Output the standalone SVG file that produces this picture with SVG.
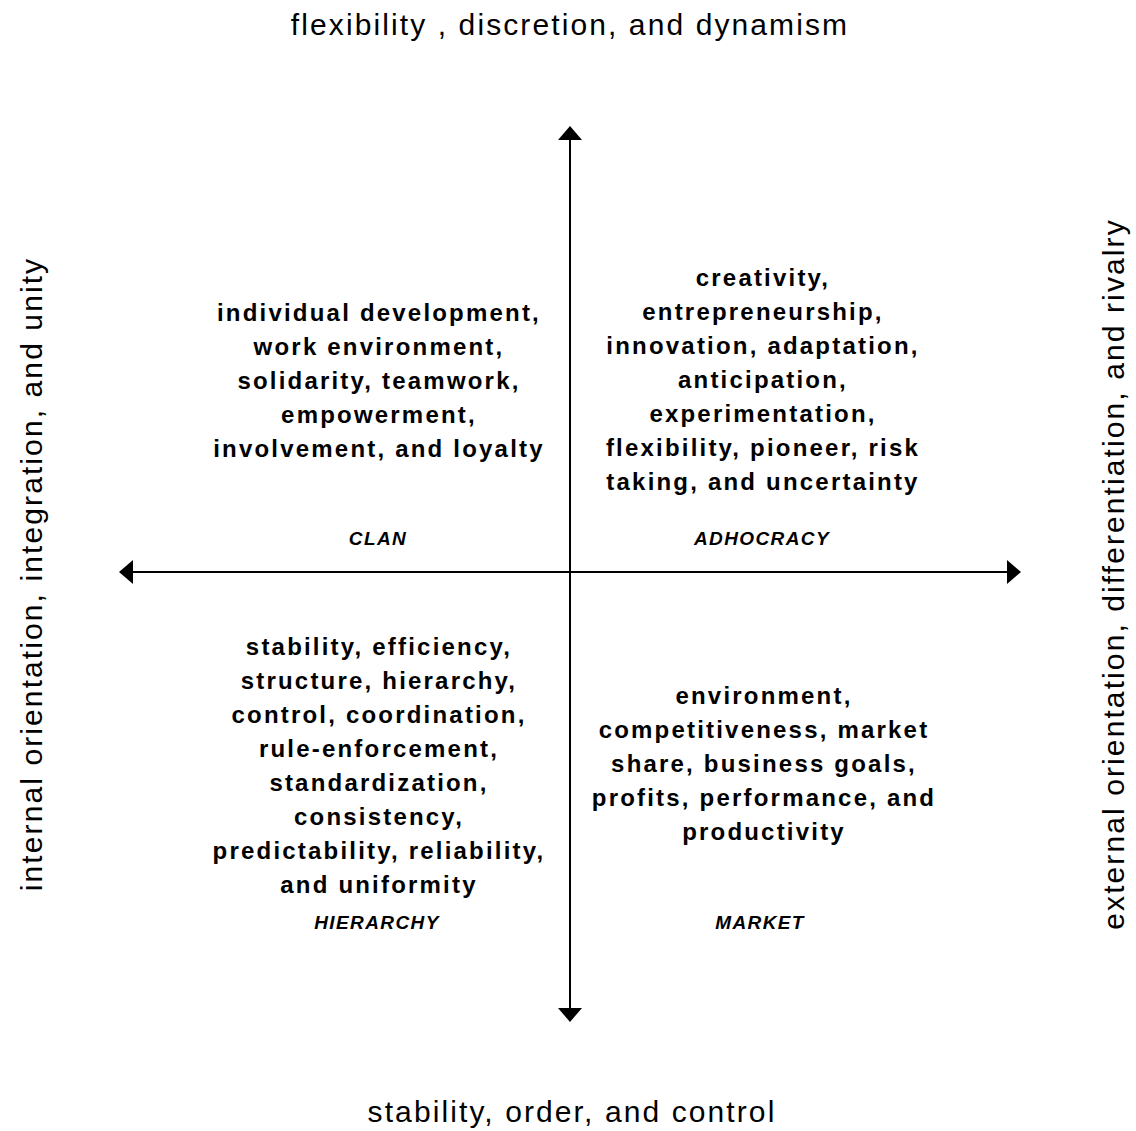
<svg xmlns="http://www.w3.org/2000/svg" width="1136" height="1131" viewBox="0 0 1136 1131">
<style>
.ax{font-family:"Liberation Sans",Arial,sans-serif;font-size:30px;fill:#000;text-anchor:middle;letter-spacing:2.1px}
.bd{font-family:"Liberation Sans",Arial,sans-serif;font-size:24px;font-weight:bold;fill:#000;text-anchor:middle;letter-spacing:2.2px}
.lb{font-family:"Liberation Sans",Arial,sans-serif;font-size:19px;font-weight:bold;font-style:italic;fill:#000;text-anchor:middle;letter-spacing:1.4px}
.line{stroke:#000;stroke-width:2;fill:none}
</style>
<defs>
<marker id="ah" viewBox="0 0 14 24" refX="13" refY="12" markerWidth="14" markerHeight="24" markerUnits="userSpaceOnUse" orient="auto">
<path d="M0,0 L14,12 L0,24 Z" fill="#000"/>
</marker>
</defs>
<rect width="1136" height="1131" fill="#fff"/>
<g id="connectors">
<line class="line" x1="570" y1="572" x2="570" y2="127" marker-end="url(#ah)"/>
<line class="line" x1="570" y1="572" x2="570" y2="1021" marker-end="url(#ah)"/>
<line class="line" x1="570" y1="572" x2="120" y2="572" marker-end="url(#ah)"/>
<line class="line" x1="570" y1="572" x2="1020" y2="572" marker-end="url(#ah)"/>
</g>
<g id="axis-top"><text class="ax" x="570" y="35">flexibility , discretion, and dynamism</text></g>
<g id="axis-bottom"><text class="ax" x="572" y="1122">stability, order, and control</text></g>
<g id="axis-left"><text class="ax" transform="translate(42,574) rotate(-90)">internal orientation, integration, and unity</text></g>
<g id="axis-right"><text class="ax" transform="translate(1124,574) rotate(-90)">external orientation, differentiation, and rivalry</text></g>
<g id="clan">
<text class="bd" x="379" y="321">individual development,</text>
<text class="bd" x="379" y="355">work environment,</text>
<text class="bd" x="379" y="389">solidarity, teamwork,</text>
<text class="bd" x="379" y="423">empowerment,</text>
<text class="bd" x="379" y="457">involvement, and loyalty</text>
<text class="lb" x="378" y="545">CLAN</text>
</g>
<g id="adhocracy">
<text class="bd" x="763" y="286">creativity,</text>
<text class="bd" x="763" y="320">entrepreneurship,</text>
<text class="bd" x="763" y="354">innovation, adaptation,</text>
<text class="bd" x="763" y="388">anticipation,</text>
<text class="bd" x="763" y="422">experimentation,</text>
<text class="bd" x="763" y="456">flexibility, pioneer, risk</text>
<text class="bd" x="763" y="490">taking, and uncertainty</text>
<text class="lb" x="762" y="545">ADHOCRACY</text>
</g>
<g id="hierarchy">
<text class="bd" x="379" y="655">stability, efficiency,</text>
<text class="bd" x="379" y="689">structure, hierarchy,</text>
<text class="bd" x="379" y="723">control, coordination,</text>
<text class="bd" x="379" y="757">rule-enforcement,</text>
<text class="bd" x="379" y="791">standardization,</text>
<text class="bd" x="379" y="825">consistency,</text>
<text class="bd" x="379" y="859">predictability, reliability,</text>
<text class="bd" x="379" y="893">and uniformity</text>
<text class="lb" x="377" y="929">HIERARCHY</text>
</g>
<g id="market">
<text class="bd" x="764" y="704">environment,</text>
<text class="bd" x="764" y="738">competitiveness, market</text>
<text class="bd" x="764" y="772">share, business goals,</text>
<text class="bd" x="764" y="806">profits, performance, and</text>
<text class="bd" x="764" y="840">productivity</text>
<text class="lb" x="760" y="929">MARKET</text>
</g>
</svg>
